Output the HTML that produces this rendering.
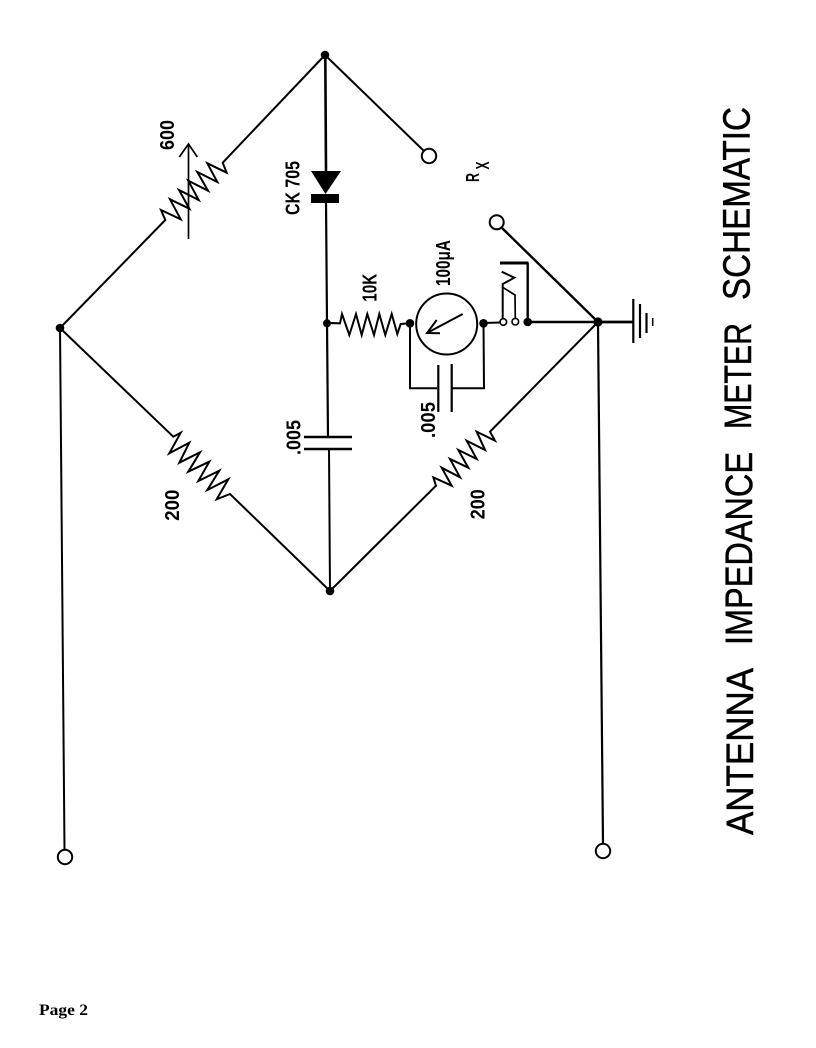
<!DOCTYPE html>
<html>
<head>
<meta charset="utf-8">
<style>
html,body{margin:0;padding:0;background:#fff}
svg{display:block}
text{font-family:"Liberation Sans",sans-serif;fill:#000}
.l{font-weight:bold;font-size:20px}
.t{font-size:38px;stroke:#000;stroke-width:.5px}
</style>
</head>
<body>
<svg width="816" height="1048" viewBox="0 0 816 1048" xmlns="http://www.w3.org/2000/svg">
<rect width="816" height="1048" fill="#fff"/>
<g fill="none" stroke="#000" stroke-width="2" stroke-linejoin="miter">
  <!-- 600 branch -->
  <polyline points="325,55 222.7,162.7 226.7,172.7 207.3,163.3 217.3,182 197.3,172 208,190.7 188.3,180.7 198.7,200 179,190 189.3,208.7 170,199.3 180.7,219.3 161,210 165.3,220 60,328"/>
  <line x1="188.5" y1="239" x2="188.5" y2="144" stroke-width="1.7"/>
  <polyline points="179.3,157 188.5,144 197.3,157" stroke-width="1.7"/>
  <!-- Rx -->
  <line x1="325" y1="55" x2="424" y2="151"/>
  <circle cx="429" cy="156" r="7.2"/>
  <!-- center vertical -->
  <polyline points="325.3,55 326,171" stroke-width="2.6"/>
  <polyline points="326,200 327,323 328,437" stroke-width="2.2"/>
  <line x1="329" y1="449" x2="330" y2="591"/>
  <line x1="304" y1="437" x2="352" y2="437" stroke-width="2.4"/>
  <line x1="304" y1="449" x2="352" y2="449" stroke-width="2.4"/>
  <!-- left 200 -->
  <polyline points="60,328 173.3,436.7 180.7,432.7 169.3,453.3 189.3,442.7 179.3,462.7 200,452.3 188.3,471.7 209.3,461.7 198.3,481 219.3,470.7 207.3,490 228.3,479.3 216.7,499.3 230,494 330,591"/>
  <!-- right 200 -->
  <polyline points="598,322 490,431.7 495,440.7 476.7,431.7 485,450 466.7,440.7 476.7,459 458.3,450 468.3,467.7 450,459 460,477.3 441.7,467.7 451.7,485.7 433.3,477.3 436,485.7 330,591"/>
  <!-- 10K -->
  <polyline points="327,323 340,323.3 342,314 349.3,335 356,314 361.7,335 367.3,314 374,335 379.3,314 385.3,335 391.7,314 397.3,334 400.7,324 410,323.3"/>
  <!-- meter -->
  <circle cx="446.7" cy="324" r="30.5"/>
  <line x1="462.7" y1="314" x2="427" y2="333"/>
  <polyline points="436.7,320 427,333 440,333.3"/>
  <polyline points="410,323 410,388.3 437,388.3"/>
  <polyline points="483.5,323 484,388.3 452,388.3"/>
  <line x1="438.3" y1="365" x2="438.3" y2="412" stroke-width="2.2"/>
  <line x1="451.7" y1="364" x2="451.7" y2="412" stroke-width="2.2"/>
  <!-- jack -->
  <line x1="483.5" y1="323" x2="500" y2="322.5"/>
  <line x1="527.7" y1="322" x2="598" y2="322" stroke-width="2.6"/>
  <line x1="598" y1="322" x2="633" y2="322" stroke-width="2.8"/>
  <line x1="500" y1="263" x2="528.5" y2="263" stroke-width="3"/>
  <line x1="527.7" y1="263" x2="527.7" y2="322" stroke-width="2.4"/>
  <polyline points="501.7,271.7 514.3,277.7 502.7,284 502.7,319" stroke-width="2"/>
  <polyline points="502.7,287.3 515,295 515.3,318" stroke-width="1.7"/>
  <circle cx="503.3" cy="322" r="3.3" fill="#fff" stroke-width="1.6"/>
  <circle cx="515.3" cy="321.7" r="3.3" fill="#fff" stroke-width="1.6"/>
  <!-- upper right terminal -->
  <circle cx="496.7" cy="222.3" r="7"/>
  <line x1="502" y1="228" x2="598" y2="322" stroke-width="2.4"/>
  <!-- bus lines -->
  <line x1="60" y1="328" x2="64.5" y2="850"/>
  <circle cx="65" cy="857" r="7.2"/>
  <line x1="598" y1="322" x2="603" y2="844" stroke-width="2.2"/>
  <circle cx="603" cy="851" r="7.2"/>
  <!-- ground -->
  <line x1="633.3" y1="299" x2="633.3" y2="343" stroke-width="2.2"/>
  <line x1="640" y1="304" x2="640" y2="338" stroke-width="2.2"/>
  <line x1="646.5" y1="313" x2="646.5" y2="333" stroke-width="2.2"/>
  <line x1="652.7" y1="318" x2="652.7" y2="326" stroke-width="1.5"/>
</g>
<!-- diode -->
<polygon points="311,171 341,171 325.5,194" fill="#000"/>
<rect x="311" y="194" width="28" height="9" fill="#000"/>
<!-- nodes -->
<g fill="#000">
  <circle cx="325" cy="55" r="4.3"/>
  <circle cx="60" cy="328" r="4.3"/>
  <circle cx="330" cy="591" r="4.3"/>
  <circle cx="598" cy="322" r="4.6"/>
  <circle cx="327" cy="323.3" r="4"/>
  <circle cx="410" cy="323.3" r="4.3"/>
  <circle cx="483.5" cy="323.3" r="4.3"/>
  <circle cx="527.7" cy="322" r="4.3"/>
</g>
<!-- labels -->
<text class="l" transform="translate(174,150) rotate(-90)" textLength="30" lengthAdjust="spacingAndGlyphs">600</text>
<text class="l" transform="translate(299.3,215) rotate(-90)" textLength="54" lengthAdjust="spacingAndGlyphs">CK 705</text>
<text class="l" transform="translate(376.7,301.7) rotate(-90)" textLength="28" lengthAdjust="spacingAndGlyphs">10K</text>
<text class="l" transform="translate(450,286) rotate(-90)" textLength="46" lengthAdjust="spacingAndGlyphs">100μA</text>
<text class="l" transform="translate(435,438) rotate(-90)" textLength="36" lengthAdjust="spacingAndGlyphs">.005</text>
<text class="l" transform="translate(300.7,455) rotate(-90)" textLength="35" lengthAdjust="spacingAndGlyphs">.005</text>
<text class="l" transform="translate(179,520.7) rotate(-90)" textLength="31" lengthAdjust="spacingAndGlyphs">200</text>
<text class="l" transform="translate(484.3,519.3) rotate(-90)" textLength="30" lengthAdjust="spacingAndGlyphs">200</text>
<text class="l" style="font-size:18px" transform="translate(479,182) rotate(-90)" textLength="9" lengthAdjust="spacingAndGlyphs">R</text>
<text class="l" style="font-size:18px" transform="translate(489,169.5) rotate(-90)" textLength="8" lengthAdjust="spacingAndGlyphs">X</text>
<!-- title -->
<text class="t" transform="translate(753,835) rotate(-90)" textLength="167" lengthAdjust="spacingAndGlyphs">ANTENNA</text>
<text class="t" transform="translate(752,645) rotate(-90)" textLength="193" lengthAdjust="spacingAndGlyphs">IMPEDANCE</text>
<text class="t" transform="translate(751,429) rotate(-90)" textLength="106" lengthAdjust="spacingAndGlyphs">METER</text>
<text class="t" transform="translate(749.5,300) rotate(-90)" textLength="193" lengthAdjust="spacingAndGlyphs">SCHEMATIC</text>
<text x="39" y="1015" style="font-family:'Liberation Serif',serif;font-weight:bold;font-size:16px" textLength="49" lengthAdjust="spacingAndGlyphs">Page 2</text>
</svg>
</body>
</html>
